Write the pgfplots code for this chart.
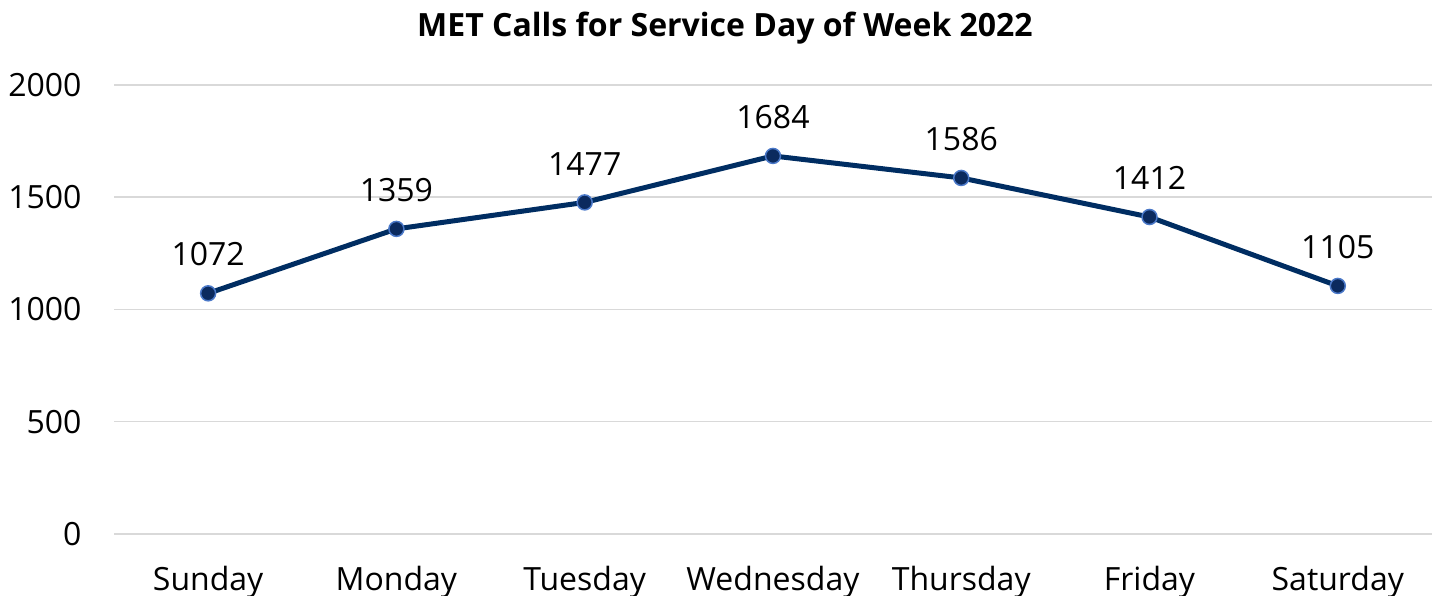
\documentclass[border=0pt]{standalone}
\usepackage{pgfplots}
\pgfplotsset{compat=1.18}
\usepackage{fontspec}
\setmainfont{Open Sans}
\definecolor{navy}{HTML}{002D62}
\definecolor{mkfill}{HTML}{0B2A5E}
\definecolor{mkedge}{HTML}{4A78C8}
\definecolor{gridc}{HTML}{D9D9D9}
\begin{document}
\begin{tikzpicture}
\path[use as bounding box] (0,0) rectangle (1439bp,596bp);
\node[font=\fontsize{32bp}{38bp}\selectfont\bfseries, anchor=center] at (725bp,568bp) {MET Calls for Service Day of Week 2022};
\begin{axis}[
  at={(114bp,62bp)}, anchor=south west,
  scale only axis,
  width=1318bp, height=449bp,
  xmin=-0.5, xmax=6.5,
  ymin=0, ymax=2000,
  ytick={0,500,1000,1500,2000},
  xtick={0,1,2,3,4,5,6},
  xticklabels={Sunday,Monday,Tuesday,Wednesday,Thursday,Friday,Saturday},
  axis line style={draw=none},
  axis x line*=bottom,
  axis y line*=left,
  tick style={draw=none},
  ymajorgrids,
  grid style={gridc, line width=1.5bp},
  ticklabel style={font=\fontsize{32bp}{38bp}\selectfont},
  /pgf/number format/assume math mode=true,
  /pgf/number format/1000 sep={},
  yticklabel style={anchor=east, xshift=-29bp},
  xticklabel style={anchor=north, yshift=-29bp},
  clip=false,
  nodes near coords,
  nodes near coords style={font=\fontsize{32bp}{38bp}\selectfont, text=black, anchor=south, yshift=23bp, /pgf/number format/1000 sep={}},
]
\addplot[navy, line width=5bp, mark=*, mark size=7.5bp, mark options={fill=mkfill, draw=mkedge, line width=1.5bp}]
coordinates {(0,1072) (1,1359) (2,1477) (3,1684) (4,1586) (5,1412) (6,1105)};
\end{axis}
\end{tikzpicture}
\end{document}
